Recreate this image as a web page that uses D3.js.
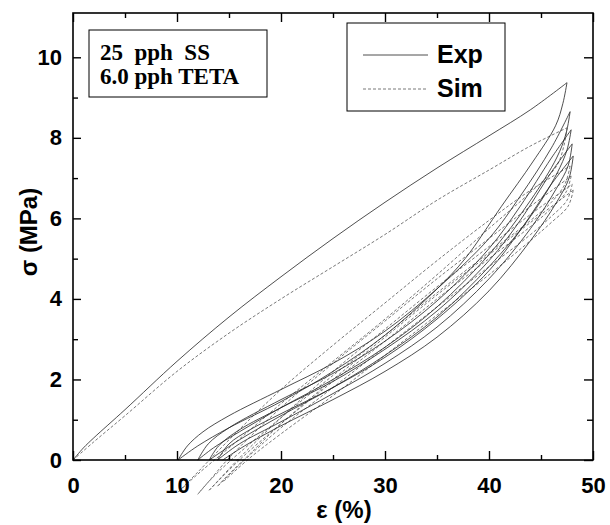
<!DOCTYPE html>
<html>
<head>
<meta charset="utf-8">
<script src="https://cdn.jsdelivr.net/npm/d3@7"></script>
<style>
  body { margin: 0; background: #fff; }
  svg { display: block; }
</style>
</head>
<body>
<svg id="chart" width="610" height="525"></svg>
<script>
// Tick values
var xMajor = [0, 10, 20, 30, 40, 50];
var xMinor = [5, 15, 25, 35, 45];
var yMajor = [0, 2, 4, 6, 8, 10];
var yMinor = [1, 3, 5, 7, 9];

// Experimental cycles, [strain %, stress MPa]
var expLoad1 = [[0,0],[1,0.3],[2,0.55],[5,1.25],[10,2.45],[15,3.55],[20,4.55],[25,5.5],[30,6.4],[35,7.25],[40,8.05],[44,8.7],[47.5,9.37]];
var expUnload1 = [[47.5,9.37],[47.1,8.85],[46.4,8.3],[44.2,7.4],[41.2,6.3],[37.7,5.0],[35,4.25],[30,3.1],[25,2.2],[20,1.45],[15,0.8],[12,0.35],[10.1,0]];
var expReload2 = [[10.1,0],[11,0.35],[12.5,0.7],[15,1.1],[20,1.75],[25,2.4],[30,3.2],[35,4.25],[40,5.5],[43,6.55],[46,7.75],[47.8,8.65]];
var expUnload2 = [[47.8,8.65],[47.4,8.1],[46.5,7.5],[44,6.45],[40,5.1],[35,3.8],[30,2.8],[25,2.0],[20,1.3],[16,0.7],[13.5,0.3],[12,0]];
var expReload3 = [[12,0],[13,0.4],[15,0.8],[20,1.5],[25,2.15],[30,2.95],[35,3.95],[40,5.25],[43,6.3],[46,7.5],[47.9,8.2]];
var expUnload3 = [[47.9,8.2],[47.5,7.7],[46.5,7.1],[44,6.05],[40,4.8],[35,3.55],[30,2.6],[25,1.8],[20,1.1],[16,0.5],[13.1,0]];
var expReload4 = [[13.1,0],[14,0.35],[16,0.75],[20,1.3],[25,1.95],[30,2.75],[35,3.7],[40,4.95],[43,5.95],[46,7.15],[48,7.85]];
var expUnload4 = [[48,7.85],[47.6,7.3],[46.5,6.75],[44,5.75],[40,4.5],[35,3.3],[30,2.4],[25,1.65],[20,0.95],[16,0.4],[13.9,0]];
var expReload5 = [[13.9,0],[15,0.4],[17,0.75],[20,1.15],[25,1.8],[30,2.55],[35,3.5],[40,4.7],[43,5.7],[46,6.85],[48.1,7.55]];
var expUnload5 = [[48.1,7.55],[47.7,7.0],[46.5,6.4],[44,5.45],[40,4.2],[35,3.05],[30,2.2],[25,1.5],[20,0.85],[16.5,0.35],[14.4,0]];

// Simulated cycles
var simLoad1 = [[0,0],[2,0.45],[5,1.1],[10,2.2],[15,3.15],[20,4.0],[25,4.8],[30,5.6],[35,6.45],[40,7.2],[44,7.8],[47.5,8.25]];
var simUnload1 = [[47.5,8.25],[47.2,7.8],[46.5,7.3],[44,6.65],[40,5.75],[35,4.6],[30,3.5],[25,2.45],[20,1.4],[15,0.3],[12,-0.35],[10.1,-0.8]];
var simReload2 = [[10.1,-0.8],[12,-0.3],[15,0.5],[20,1.75],[25,2.85],[30,3.9],[35,4.95],[40,5.95],[44,6.7],[47.8,7.3]];
var simUnload2 = [[47.8,7.3],[47.3,6.85],[46,6.4],[44,5.95],[40,5.15],[35,4.15],[30,3.1],[25,2.1],[20,1.05],[15,-0.05],[13,-0.55],[12,-0.85]];
var simReload3 = [[12,-0.85],[13,-0.55],[15,0.05],[20,1.3],[25,2.4],[30,3.45],[35,4.5],[40,5.5],[44,6.3],[47.9,7.05]];
var simUnload3 = [[47.9,7.05],[47.4,6.65],[46,6.25],[44,5.8],[40,5.0],[35,4.0],[30,2.95],[25,1.95],[20,0.9],[16,0.0],[13.1,-0.75]];
var simReload4 = [[13.1,-0.75],[14,-0.5],[16,0.05],[20,1.05],[25,2.2],[30,3.25],[35,4.3],[40,5.3],[44,6.1],[48,6.85]];
var simUnload4 = [[48,6.85],[47.5,6.45],[46,6.05],[44,5.6],[40,4.8],[35,3.8],[30,2.8],[25,1.8],[20,0.8],[16.5,0.0],[13.9,-0.65]];
var simReload5 = [[13.9,-0.65],[15,-0.35],[17,0.15],[20,0.9],[25,2.0],[30,3.05],[35,4.1],[40,5.1],[44,5.9],[48.1,6.7]];
var simUnload5 = [[48.1,6.7],[47.6,6.3],[46,5.9],[44,5.45],[40,4.6],[35,3.6],[30,2.6],[25,1.6],[20,0.65],[17,0.05],[14.4,-0.55]];

var expCurves = [expLoad1, expUnload1, expReload2, expUnload2, expReload3, expUnload3, expReload4, expUnload4, expReload5, expUnload5];
var simCurves = [simLoad1, simUnload1, simReload2, simUnload2, simReload3, simUnload3, simReload4, simUnload4, simReload5, simUnload5];

var infoLines = ['25  pph  SS', '6.0 pph TETA'];
var legendItems = [{ name: 'Exp', dash: null }, { name: 'Sim', dash: '3,2' }];

var svg = d3.select('#chart');
// plot frame in pixels (avoid window.top)
var plotL = 73, plotR = 593, plotT = 13, plotB = 460;

var x = d3.scaleLinear().domain([0, 50]).range([plotL, plotR]);
var y = d3.scaleLinear().domain([0, 11.1]).range([plotB, plotT]);

var line = d3.line()
    .x(function(d) { return x(d[0]); })
    .y(function(d) { return y(d[1]); })
    .curve(d3.curveCatmullRom.alpha(0.5));

// curves
svg.append('g').selectAll('path')
    .data(simCurves)
  .enter().append('path')
    .attr('d', line)
    .attr('fill', 'none')
    .attr('stroke', '#555')
    .attr('stroke-width', 0.8)
    .attr('stroke-dasharray', '3,2');

svg.append('g').selectAll('path')
    .data(expCurves)
  .enter().append('path')
    .attr('d', line)
    .attr('fill', 'none')
    .attr('stroke', '#222')
    .attr('stroke-width', 0.8);

// axes, ticks pointing inwards on every side
var labelFont = 'bold 22px "Liberation Sans", Arial, sans-serif';

function addAxis(axis, transform, labels) {
  var g = svg.append('g').attr('transform', transform).call(axis);
  g.select('.domain').remove();
  g.selectAll('line').attr('stroke', '#000').attr('stroke-width', 1.4);
  g.selectAll('text').style('font', labelFont).attr('fill', '#000');
  if (!labels) g.selectAll('text').remove();
  return g;
}

addAxis(d3.axisBottom(x).tickValues(xMajor).tickSize(-9).tickPadding(17).tickFormat(d3.format('d')), 'translate(0,' + plotB + ')', true);
addAxis(d3.axisBottom(x).tickValues(xMinor).tickSize(-5), 'translate(0,' + plotB + ')', false);
addAxis(d3.axisTop(x).tickValues(xMajor).tickSize(-9), 'translate(0,' + plotT + ')', false);
addAxis(d3.axisTop(x).tickValues(xMinor).tickSize(-5), 'translate(0,' + plotT + ')', false);
addAxis(d3.axisLeft(y).tickValues(yMajor).tickSize(-8).tickPadding(11).tickFormat(d3.format('d')), 'translate(' + plotL + ',0)', true);
addAxis(d3.axisLeft(y).tickValues(yMinor).tickSize(-5), 'translate(' + plotL + ',0)', false);
addAxis(d3.axisRight(y).tickValues(yMajor).tickSize(-9), 'translate(' + plotR + ',0)', false);
addAxis(d3.axisRight(y).tickValues(yMinor).tickSize(-6), 'translate(' + plotR + ',0)', false);

svg.append('rect')
    .attr('x', plotL).attr('y', plotT)
    .attr('width', plotR - plotL).attr('height', plotB - plotT)
    .attr('fill', 'none').attr('stroke', '#000').attr('stroke-width', 1.6);

// axis titles
svg.append('text')
    .attr('x', 344).attr('y', 518)
    .attr('text-anchor', 'middle')
    .style('font', 'bold 24px "Liberation Sans", Arial, sans-serif')
    .text('ε (%)');

svg.append('text')
    .attr('transform', 'translate(37,232) rotate(-90)')
    .attr('text-anchor', 'middle')
    .style('font', 'bold 24px "Liberation Sans", Arial, sans-serif')
    .text('σ (MPa)');

// sample box
svg.append('rect')
    .attr('x', 89).attr('y', 30).attr('width', 178).attr('height', 67)
    .attr('fill', '#fff').attr('stroke', '#000').attr('stroke-width', 1);

svg.append('g').selectAll('text')
    .data(infoLines)
  .enter().append('text')
    .attr('x', 100)
    .attr('y', function(d, i) { return 60 + i * 24; })
    .style('font', 'bold 23px "Liberation Serif", "Times New Roman", serif')
    .style('white-space', 'pre')
    .text(function(d) { return d; });

// legend
svg.append('rect')
    .attr('x', 347).attr('y', 23).attr('width', 158).attr('height', 88)
    .attr('fill', '#fff').attr('stroke', '#000').attr('stroke-width', 1);

var legend = svg.append('g').selectAll('g')
    .data(legendItems)
  .enter().append('g')
    .attr('transform', function(d, i) { return 'translate(0,' + (55 + i * 34) + ')'; });

legend.append('line')
    .attr('x1', 363).attr('x2', 428)
    .attr('stroke', function(d) { return d.dash ? '#555' : '#222'; })
    .attr('stroke-width', 0.8)
    .attr('stroke-dasharray', function(d) { return d.dash; });

legend.append('text')
    .attr('x', 437).attr('y', 8)
    .style('font', 'bold 25px "Liberation Sans", Arial, sans-serif')
    .text(function(d) { return d.name; });
</script>
</body>
</html>
